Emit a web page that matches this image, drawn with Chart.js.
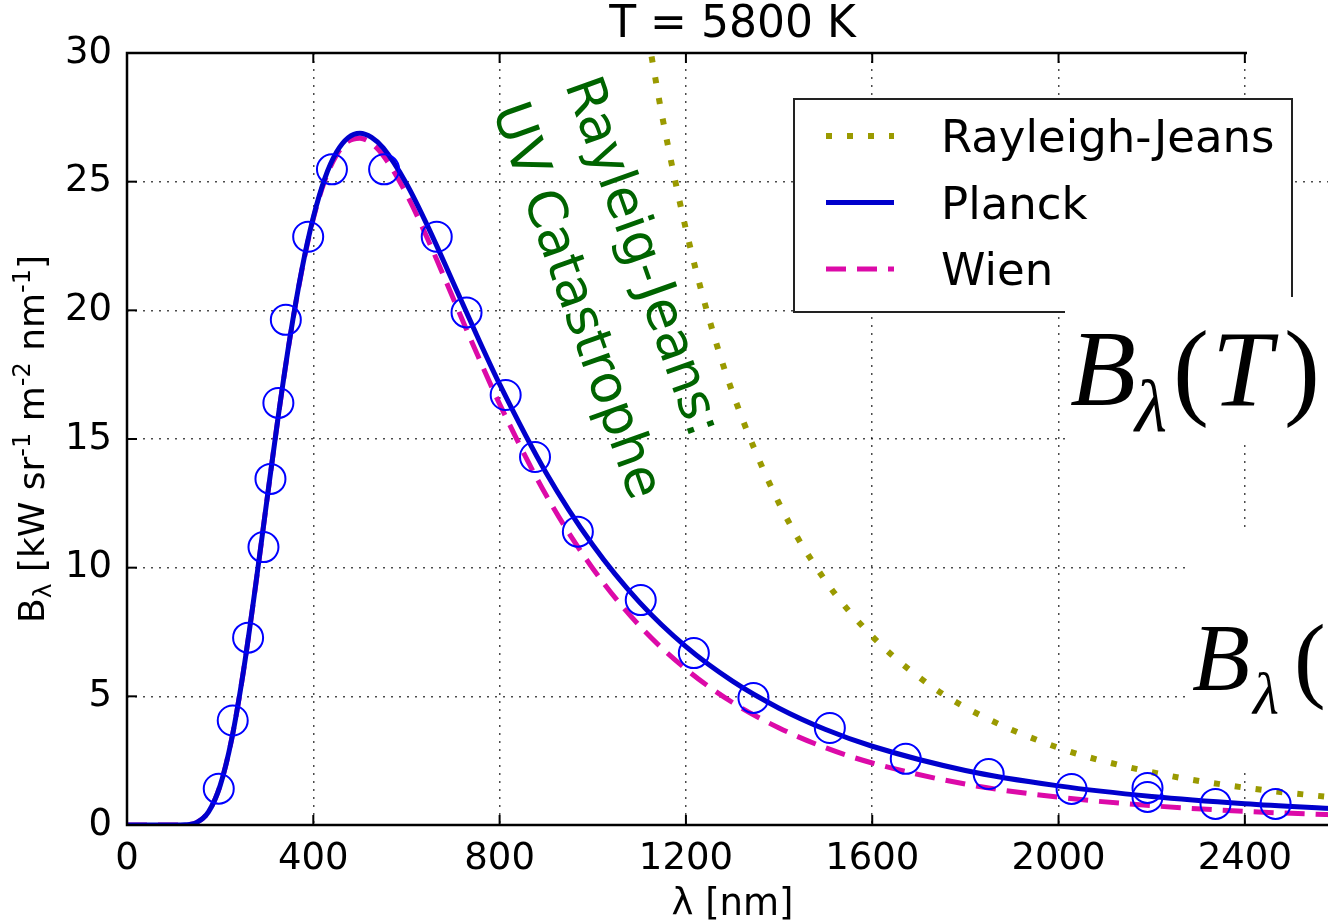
<!DOCTYPE html>
<html>
<head>
<meta charset="utf-8">
<title>Blackbody spectrum, T = 5800 K</title>
<script src="https://cdn.jsdelivr.net/npm/chart.js@4.4.1/dist/chart.umd.min.js"></script>
<style>
  html, body { margin: 0; padding: 0; background: #fff; overflow: hidden; }
  #wrap { width: 1360px; height: 924px; }
</style>
</head>
<body>
<div id="wrap"><canvas id="spectrum" width="1360" height="924"></canvas></div>
<script>
// wavelength grid of the model curves [nm]
const lambdaModel = [0, 50, 100, 125, 150, 175, 200, 225, 250, 275, 300, 325, 350, 375, 400, 425, 450,
  475, 500, 525, 550, 600, 650, 700, 750, 800, 900, 1000, 1100, 1200, 1300, 1400, 1500, 1600, 1800,
  2000, 2200, 2400, 2600];
// spectral radiance [kW sr-1 m-2 nm-1]
const planck = [0, 0, 0, 0.01, 0.10, 0.51, 1.53, 3.36, 5.98, 9.16, 12.57, 15.92, 18.96, 21.55, 23.61,
  25.14, 26.15, 26.71, 26.88, 26.72, 26.31, 24.92, 23.10, 21.09, 19.07, 17.13, 13.68, 10.88, 8.66, 6.93,
  5.59, 4.54, 3.71, 3.06, 2.12, 1.52, 1.11, 0.83, 0.63];
const wien = [0, 0, 0, 0.01, 0.10, 0.51, 1.53, 3.36, 5.98, 9.15, 12.56, 15.91, 18.94, 21.52, 23.56,
  25.06, 26.04, 26.57, 26.69, 26.49, 26.02, 24.52, 22.59, 20.48, 18.37, 16.36, 12.81, 9.97, 7.75, 6.06,
  4.76, 3.77, 3.00, 2.41, 1.59, 1.08, 0.75, 0.53, 0.39];

const lambdaRJ = [1120, 1150, 1200, 1250, 1300, 1400, 1500, 1600, 1700, 1800, 2000, 2200, 2400, 2600];
const rayleighJeans = [30.51, 27.45, 23.15, 19.66, 16.81, 12.50, 9.48, 7.33, 5.75, 4.57, 3.00,
  2.05, 1.45, 1.05];

// measured points
const lambdaObs = [197, 227, 260, 293, 308, 325, 341, 389, 440, 552, 665, 729, 813, 876, 968, 1103,
  1217, 1345, 1509, 1672, 1850, 2028, 2191, 2191, 2337, 2466];
const observed = [1.41, 4.06, 7.28, 10.80, 13.45, 16.40, 19.63, 22.86, 25.48, 25.48, 22.86, 19.92,
  16.71, 14.30, 11.40, 8.74, 6.68, 4.94, 3.77, 2.57, 1.98, 1.40, 1.44, 1.09, 0.82, 0.82];

const xTicks = [0, 400, 800, 1200, 1600, 2000, 2400];
const yTicks = [0, 5, 10, 15, 20, 25, 30];

const legendOrder = ['Rayleigh-Jeans', 'Planck', 'Wien'];
const noteLines = ['Rayleig-Jeans:', 'UV Catastrophe'];
const noteAt = [940, 28.78];

const FONT = '"DejaVu Sans", sans-serif';
const SERIF = '"Liberation Serif", "Times New Roman", serif';

const toXY = (xs, ys) => xs.map((x, i) => ({ x: x, y: ys[i] }));

function line(ctx, x1, y1, x2, y2) {
  ctx.beginPath();
  ctx.moveTo(x1, y1);
  ctx.lineTo(x2, y2);
  ctx.stroke();
}

// axes frame with inward ticks, legend box, notes and the formula insets
const decorations = {
  id: 'decorations',
  afterDraw(chart) {
    const { ctx, chartArea: a, scales: { x, y } } = chart;
    ctx.save();

    ctx.strokeStyle = '#000';
    ctx.lineWidth = 2.5;
    ctx.strokeRect(a.left, a.top, a.right - a.left, a.bottom - a.top);
    ctx.lineWidth = 2;
    xTicks.forEach(v => {
      const px = x.getPixelForValue(v);
      line(ctx, px, a.bottom, px, a.bottom - 10);
      line(ctx, px, a.top, px, a.top + 10);
    });
    yTicks.forEach(v => {
      const py = y.getPixelForValue(v);
      line(ctx, a.left, py, a.left + 10, py);
      line(ctx, a.right, py, a.right - 10, py);
    });

    // legend
    ctx.fillStyle = '#fff';
    ctx.fillRect(794, 99, 498, 213);
    ctx.strokeStyle = '#222';
    ctx.lineWidth = 2;
    ctx.strokeRect(794, 99, 498, 213);
    ctx.font = '45px ' + FONT;
    ctx.textBaseline = 'alphabetic';
    ctx.textAlign = 'left';
    legendOrder.forEach((name, i) => {
      const ds = chart.data.datasets.find(d => d.label === name);
      const ly = 136 + i * 66.5;
      ctx.save();
      ctx.strokeStyle = ds.borderColor;
      ctx.lineWidth = ds.borderWidth;
      ctx.setLineDash(ds.borderDash || []);
      ctx.lineCap = 'butt';
      line(ctx, 826, ly, 894, ly);
      ctx.restore();
      ctx.fillStyle = '#000';
      ctx.fillText(name, 941, ly + 16);
    });

    // note on the Rayleigh-Jeans divergence
    ctx.save();
    ctx.fillStyle = '#006400';
    ctx.font = '53px ' + FONT;
    ctx.translate(x.getPixelForValue(noteAt[0]), y.getPixelForValue(noteAt[1]));
    ctx.rotate(70.5 * Math.PI / 180);
    noteLines.forEach((t, i) => ctx.fillText(t, 0, i * 77));
    ctx.restore();

    // y axis title with sub- and superscripts
    const parts = [['B', 36, 0], ['\u03bb', 25, 7], [' [kW sr', 36, 0], ['-1', 24, -14], [' m', 36, 0],
      ['-2', 24, -14], [' nm', 36, 0], ['-1', 24, -14], [']', 36, 0]];
    let total = 0;
    parts.forEach(p => { ctx.font = p[1] + 'px ' + FONT; total += ctx.measureText(p[0]).width; });
    ctx.save();
    ctx.translate(44, (a.top + a.bottom) / 2);
    ctx.rotate(-Math.PI / 2);
    ctx.fillStyle = '#000';
    let cx = -total / 2;
    parts.forEach(p => {
      ctx.font = p[1] + 'px ' + FONT;
      ctx.fillText(p[0], cx, p[2]);
      cx += ctx.measureText(p[0]).width;
    });
    ctx.restore();

    // pasted formula insets on the right
    ctx.fillStyle = '#fff';
    ctx.fillRect(1247, 0, 120, 92);
    ctx.fillRect(1065, 297, 300, 146);
    ctx.fillRect(1186, 533, 180, 239);
    ctx.fillStyle = '#000';
    ctx.font = 'italic 108px ' + SERIF;
    ctx.fillText('B', 1070, 405);
    ctx.font = 'italic 74px ' + SERIF;
    ctx.fillText('\u03bb', 1135, 431);
    ctx.font = '108px ' + SERIF;
    ctx.fillText('(', 1173, 405);
    ctx.font = 'italic 108px ' + SERIF;
    ctx.fillText('T', 1212, 405);
    ctx.font = '108px ' + SERIF;
    ctx.fillText(')', 1284, 405);

    ctx.font = 'italic 95px ' + SERIF;
    ctx.fillText('B', 1192, 690);
    ctx.font = 'italic 60px ' + SERIF;
    ctx.fillText('\u03bb', 1253, 714);
    ctx.font = '95px ' + SERIF;
    ctx.fillText('(', 1294, 690);

    ctx.restore();
  }
};

const curve = {
  showLine: true,
  pointRadius: 0,
  pointHoverRadius: 0,
  fill: false,
  cubicInterpolationMode: 'monotone'
};

new Chart(document.getElementById('spectrum'), {
  type: 'scatter',
  data: {
    datasets: [
      {
        label: 'data',
        data: toXY(lambdaObs, observed),
        showLine: false,
        pointRadius: 15,
        pointHoverRadius: 15,
        pointBorderWidth: 2,
        pointBorderColor: '#0000ff',
        pointBackgroundColor: 'rgba(0,0,0,0)',
        order: 0
      },
      Object.assign({ label: 'Planck', data: toXY(lambdaModel, planck), borderColor: '#0000cc',
        borderWidth: 5, order: 1 }, curve),
      Object.assign({ label: 'Wien', data: toXY(lambdaModel, wien), borderColor: '#dc0aa8',
        borderWidth: 5, borderDash: [20, 11], order: 2 }, curve),
      Object.assign({ label: 'Rayleigh-Jeans', data: toXY(lambdaRJ, rayleighJeans), borderColor: '#9a9a00',
        borderWidth: 6, borderDash: [6, 15], borderDashOffset: 4, order: 3 }, curve)
    ]
  },
  options: {
    responsive: false,
    animation: false,
    devicePixelRatio: 1,
    layout: { padding: { left: 0, right: 22, top: 0, bottom: 0 } },
    plugins: {
      legend: { display: false },
      tooltip: { enabled: false },
      title: {
        display: true,
        text: 'T = 5800 K',
        fullSize: false,
        color: '#000',
        font: { family: FONT, size: 44, weight: 'normal', lineHeight: 1 },
        padding: { top: 4, bottom: 5 }
      }
    },
    scales: {
      x: {
        type: 'linear',
        min: 0,
        max: 2600,
        afterBuildTicks: s => { s.ticks = xTicks.map(v => ({ value: v })); },
        afterFit: s => { s.height = 99; },
        grid: { color: 'rgba(0,0,0,0.7)', lineWidth: 1.5, drawTicks: false },
        border: { display: false, dash: [2, 6] },
        ticks: { color: '#000', padding: 12, maxRotation: 0, font: { family: FONT, size: 37 },
          callback: v => String(v) },
        title: { display: true, text: '\u03bb [nm]', color: '#000', padding: { top: 0, bottom: -4 },
          font: { family: FONT, size: 37 } }
      },
      y: {
        type: 'linear',
        min: 0,
        max: 30,
        afterBuildTicks: s => { s.ticks = yTicks.map(v => ({ value: v })); },
        afterFit: s => { s.width = 127; },
        grid: { color: 'rgba(0,0,0,0.7)', lineWidth: 1.5, drawTicks: false },
        border: { display: false, dash: [2, 6] },
        ticks: { color: '#000', padding: 15, font: { family: FONT, size: 37 }, callback: v => String(v) }
      }
    }
  },
  plugins: [decorations]
});
</script>
</body>
</html>
